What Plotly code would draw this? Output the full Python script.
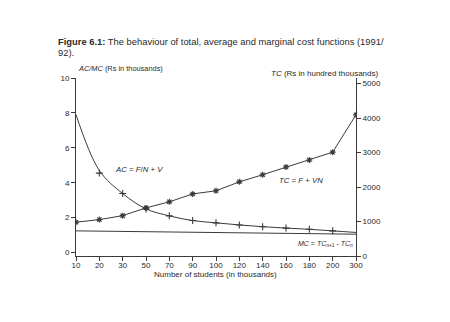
import plotly.graph_objects as go

# ---- data ----
students = ["10", "20", "30", "50", "70", "90", "100", "120", "140", "160", "180", "200", "300"]
ac_values = [7.9, 4.7, 3.38, 2.5, 2.1, 1.83, 1.70, 1.58, 1.48, 1.40, 1.33, 1.24, 1.15]
ac_marker_students = ["20", "30", "50", "70", "90", "100", "120", "140", "160", "180", "200"]
ac_marker_values = [4.55, 3.38, 2.5, 2.1, 1.83, 1.70, 1.58, 1.48, 1.40, 1.33, 1.24]
tc_values = [980, 1055, 1170, 1395, 1570, 1800, 1890, 2150, 2355, 2580, 2785, 3010, 4095]
mc_students = ["10", "300"]
mc_values = [1.24, 1.05]
left_ticks = [0, 2, 4, 6, 8, 10]
right_ticks = [0, 1000, 2000, 3000, 4000, 5000]

LINE = "#3a3a3a"
TXT = "#2a2a2a"
FONT = "Liberation Sans, Arial, sans-serif"

fig = go.Figure()

# AC smooth curve
fig.add_trace(go.Scatter(x=students, y=ac_values, mode="lines",
                         line=dict(color=LINE, width=1, shape="spline", smoothing=1.0),
                         showlegend=False, hoverinfo="skip"))
fig.add_trace(go.Scatter(x=ac_marker_students, y=ac_marker_values, mode="markers",
                         marker=dict(symbol="cross-thin-open", size=5, color=LINE,
                                     line=dict(color=LINE, width=1.1)),
                         showlegend=False, hoverinfo="skip"))
# MC line
fig.add_trace(go.Scatter(x=mc_students, y=mc_values, mode="lines",
                         line=dict(color=LINE, width=1), showlegend=False, hoverinfo="skip"))
# TC polyline on right axis
fig.add_trace(go.Scatter(x=students, y=tc_values, mode="lines+markers", yaxis="y2",
                         line=dict(color=LINE, width=1),
                         marker=dict(symbol="asterisk-open", size=5, color=LINE,
                                     line=dict(color=LINE, width=1.1)),
                         showlegend=False, hoverinfo="skip"))

axis_common = dict(showgrid=False, zeroline=False, showline=True, linecolor=LINE, linewidth=1,
                   ticks="outside", ticklen=4, tickwidth=1, tickcolor=LINE,
                   tickfont=dict(family=FONT, size=8, color=TXT))

fig.update_layout(
    width=450, height=322,
    margin=dict(l=76, r=94, t=78, b=66),
    paper_bgcolor="white", plot_bgcolor="white",
    xaxis=dict(type="category", categoryorder="array", categoryarray=students,
               range=[0, len(students) - 1], ticklabelstandoff=-3, **axis_common),
    yaxis=dict(range=[-0.2, 10], tickvals=left_ticks, **axis_common),
    yaxis2=dict(range=[0, 5160], tickvals=right_ticks, overlaying="y", side="right", **axis_common),
    font=dict(family=FONT, color=TXT),
)

def px2paper(px_x, px_y):
    return (px_x - 76) / 280.0, (256 - px_y) / 178.0

def add_text(text, px_x, px_y, size=8, xanchor="left"):
    x, y = px2paper(px_x, px_y)
    fig.add_annotation(text=text, x=x, y=y, xref="paper", yref="paper",
                       xanchor=xanchor, yanchor="middle", showarrow=False,
                       font=dict(family=FONT, size=size, color=TXT))

add_text("<b>Figure 6.1:</b> The behaviour of total, average and marginal cost functions (1991/", 56, 42, size=9.4)
add_text("92).", 56, 52, size=9.4)
add_text("<i>AC/MC</i> (Rs in thousands)", 76, 68, size=7.4)
add_text("<i>TC</i> (Rs in hundred thousands)", 381, 73, size=8.0, xanchor="right")
add_text("<i>AC</i> = <i>F</i>/<i>N</i> + <i>V</i>", 113, 169, size=7.8)
add_text("<i>TC</i> = <i>F</i> + <i>VN</i>", 277, 180, size=7.8)
add_text("<i>MC</i> = <i>TC</i><sub><i>n</i>+1</sub> - <i>TC</i><sub><i>n</i></sub>", 296, 244, size=7)
add_text("Number of students (in thousands)", 215, 274, size=8, xanchor="center")

fig.write_html("out.html")
